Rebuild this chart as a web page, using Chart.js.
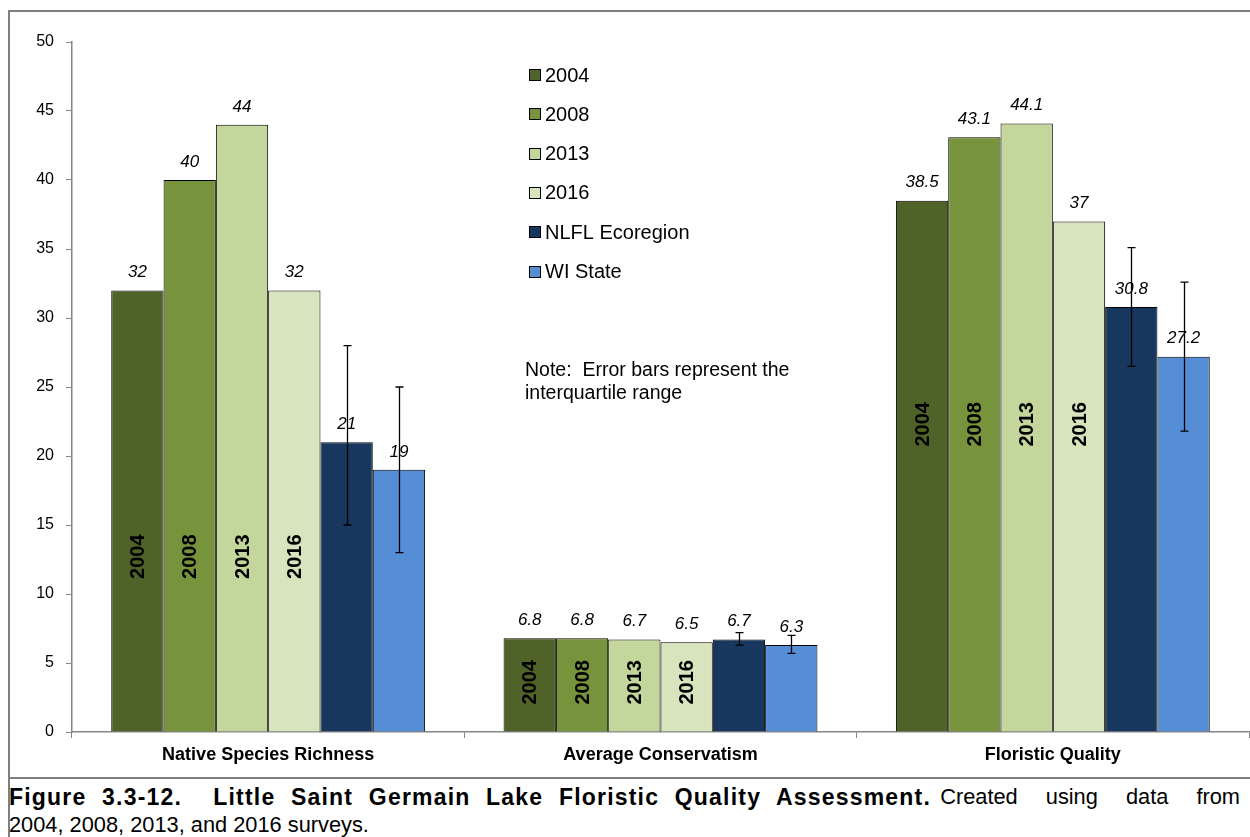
<!DOCTYPE html>
<html>
<head>
<meta charset="utf-8">
<script src="https://cdn.jsdelivr.net/npm/chart.js@4"></script>
<style>
    body { margin: 0; width: 1250px; height: 837px; overflow: hidden; background: #fff; font-family: 'Liberation Sans', Arial, sans-serif; }
    #frame { position: absolute; left: 8px; top: 10px; width: 1260px; height: 900px; border-left: 2px solid #7f7f7f; border-top: 2px solid #7f7f7f; }
    #sep { position: absolute; left: 8px; top: 777px; width: 1250px; height: 2px; background: #7f7f7f; }
    #chartBox { position: absolute; left: 0; top: 0; width: 1250px; height: 778px; }
    .cap { position: absolute; font-size: 21.8px; line-height: 28px; color: #000; white-space: nowrap; }
    #capBold { top: 783px; left: 9px; font-weight: bold; font-size: 23px; letter-spacing: 1.2px; word-spacing: 8px; }
    #capRest { top: 783px; right: 10px; word-spacing: 22px; }
    #cap2 { top: 811px; left: 9px; }
</style>
</head>
<body>
<div id="frame"></div>
<div id="sep"></div>
<div id="chartBox"><canvas id="fqaChart" width="1250" height="778"></canvas></div>
<div class="cap" id="capBold">Figure 3.3-12.&nbsp; Little Saint Germain Lake Floristic Quality Assessment.</div>
<div class="cap" id="capRest">Created using data from</div>
<div class="cap" id="cap2">2004, 2008, 2013, and 2016 surveys.</div>
<script>
// Data
const categories = ['Native Species Richness', 'Average Conservatism', 'Floristic Quality'];
const seriesNames = ['2004', '2008', '2013', '2016', 'NLFL Ecoregion', 'WI State'];
const values2004 = [32, 6.8, 38.5];
const values2008 = [40, 6.8, 43.1];
const values2013 = [44, 6.7, 44.1];
const values2016 = [32, 6.5, 37];
const valuesNLFL = [21, 6.7, 30.8];
const valuesWI = [19, 6.3, 27.2];
// interquartile ranges
const nlflLow = [15, 6.3, 26.5];
const nlflHigh = [28, 7.2, 35.1];
const wiLow = [13, 5.7, 21.8];
const wiHigh = [25, 7.0, 32.6];
const yTicks = [0, 5, 10, 15, 20, 25, 30, 35, 40, 45, 50];

const seriesValues = [values2004, values2008, values2013, values2016, valuesNLFL, valuesWI];
const seriesColors = ['#4F6228', '#77933C', '#C3D69B', '#D7E4BD', '#17375E', '#558ED5'];
const errorRanges = { 4: [nlflLow, nlflHigh], 5: [wiLow, wiHigh] };

const FONT = "'Liberation Sans', Arial, sans-serif";
const AXIS_GRAY = '#868686';

// Value labels above bars + rotated year labels inside the yearly bars
const labelsPlugin = {
    id: 'barLabels',
    afterDatasetsDraw(chart) {
        const ctx = chart.ctx;
        const yScale = chart.scales.y;
        const yearLabelAt = [12.7, 3.6, 22.3];
        ctx.save();
        chart.data.datasets.forEach((ds, di) => {
            const meta = chart.getDatasetMeta(di);
            meta.data.forEach((bar, i) => {
                ctx.fillStyle = '#000';
                ctx.font = 'italic 17px ' + FONT;
                ctx.textAlign = 'center';
                ctx.textBaseline = 'middle';
                ctx.fillText(String(ds.data[i]), bar.x, bar.y - 18);
                if (di < 4) {
                    ctx.save();
                    ctx.translate(bar.x, yScale.getPixelForValue(yearLabelAt[i]));
                    ctx.rotate(-Math.PI / 2);
                    ctx.font = 'bold 20px ' + FONT;
                    ctx.fillText(ds.label, 0, 1);
                    ctx.restore();
                }
            });
        });
        ctx.restore();
    }
};

// Error bars for the reference series
const errorBarPlugin = {
    id: 'errorBars',
    afterDatasetsDraw(chart) {
        const ctx = chart.ctx;
        const yScale = chart.scales.y;
        ctx.save();
        ctx.strokeStyle = '#000';
        ctx.lineWidth = 1.3;
        Object.keys(errorRanges).forEach(key => {
            const di = Number(key);
            const [low, high] = errorRanges[key];
            chart.getDatasetMeta(di).data.forEach((bar, i) => {
                const x = Math.round(bar.x) + 0.5;
                const yLo = yScale.getPixelForValue(low[i]);
                const yHi = yScale.getPixelForValue(high[i]);
                ctx.beginPath();
                ctx.moveTo(x, yLo); ctx.lineTo(x, yHi);
                ctx.moveTo(x - 4, yLo); ctx.lineTo(x + 4, yLo);
                ctx.moveTo(x - 4, yHi); ctx.lineTo(x + 4, yHi);
                ctx.stroke();
            });
        });
        ctx.restore();
    }
};

// Legend and note inside the plot
const legendPlugin = {
    id: 'insideLegend',
    afterDraw(chart) {
        const ctx = chart.ctx;
        ctx.save();
        ctx.textBaseline = 'middle';
        ctx.textAlign = 'left';
        chart.data.datasets.forEach((ds, i) => {
            const y = 75 + i * 39.3;
            ctx.fillStyle = ds.backgroundColor;
            ctx.fillRect(529.5, Math.round(y - 6) + 0.5, 11, 11);
            ctx.strokeStyle = '#000';
            ctx.lineWidth = 1;
            ctx.strokeRect(529.5, Math.round(y - 6) + 0.5, 11, 11);
            ctx.fillStyle = '#000';
            ctx.font = '20px ' + FONT;
            ctx.fillText(ds.label, 545, y + 1);
        });
        ctx.font = '19.5px ' + FONT;
        ctx.fillText('Note:  Error bars represent the', 525, 371);
        ctx.fillText('interquartile range', 525, 394);
        ctx.restore();
    }
};

const datasets = seriesNames.map((name, i) => ({
    label: name,
    data: seriesValues[i],
    backgroundColor: seriesColors[i],
    borderColor: '#000',
    borderWidth: 1,
    categoryPercentage: 0.8,
    barPercentage: 1.0
}));

const chart = new Chart(document.getElementById('fqaChart').getContext('2d'), {
    type: 'bar',
    data: { labels: categories, datasets: datasets },
    options: {
        responsive: false,
        animation: false,
        layout: { padding: { left: 0, top: 42, right: 1, bottom: 0 } },
        plugins: { legend: { display: false }, tooltip: { enabled: false } },
        scales: {
            x: {
                grid: { drawOnChartArea: false, color: AXIS_GRAY, tickLength: 6 },
                border: { color: AXIS_GRAY, width: 1.5 },
                ticks: { color: '#000', font: { family: FONT, size: 18, weight: 'bold' }, padding: 6 },
                afterFit(scale) { scale.height = 46; }
            },
            y: {
                min: 0,
                max: 50,
                afterBuildTicks(scale) { scale.ticks = yTicks.map(v => ({ value: v })); },
                grid: { drawOnChartArea: false, color: AXIS_GRAY, tickLength: 6 },
                border: { color: AXIS_GRAY, width: 1.5 },
                ticks: { color: '#000', font: { family: FONT, size: 16 }, padding: 12 },
                afterFit(scale) { scale.width = 72; }
            }
        }
    },
    plugins: [labelsPlugin, errorBarPlugin, legendPlugin]
});
</script>
</body>
</html>
